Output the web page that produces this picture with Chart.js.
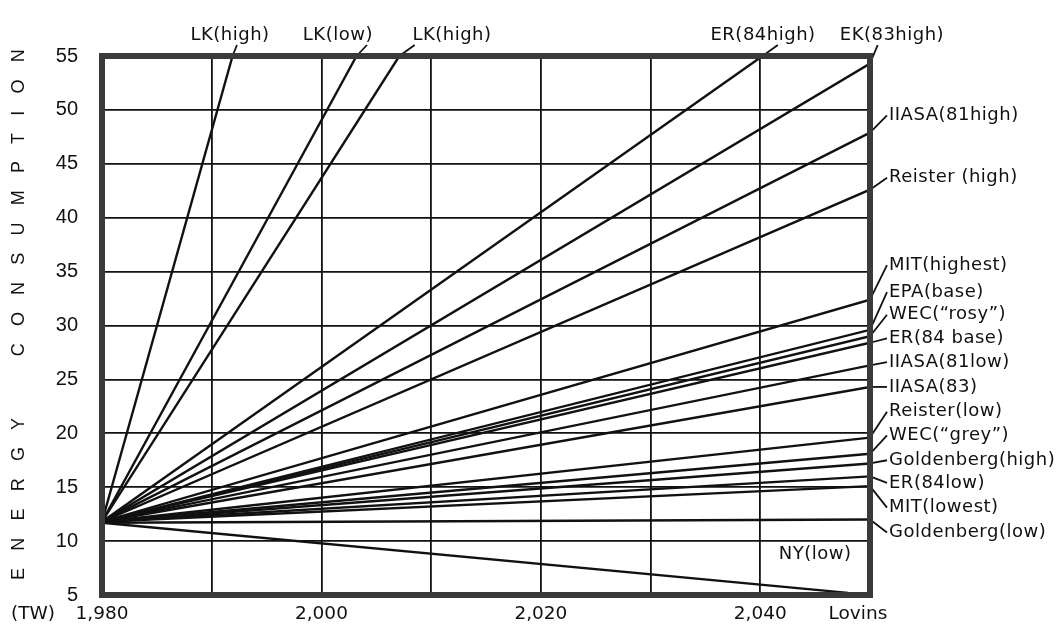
<!DOCTYPE html>
<html>
<head>
<meta charset="utf-8">
<title>Energy consumption scenarios</title>
<script src="https://cdn.jsdelivr.net/npm/chart.js@4/dist/chart.umd.min.js"></script>
<style>
  html, body { margin: 0; padding: 0; background: #fff; }
  #wrap { width: 1058px; height: 633px; }
</style>
</head>
<body>
<div id="wrap"><canvas id="chart" width="1058" height="633"></canvas></div>
<script>
'use strict';

// ─── Data ─────────────────────────────────────────────────────────────────────
const BASE_YEAR = 1980;

const scenarios = [
  'LK(high)', 'LK(low)', 'LK(high)', 'ER(84high)', 'EK(83high)',
  'IIASA(81high)', 'Reister (high)', 'MIT(highest)', 'EPA(base)', 'WEC(\u201crosy\u201d)',
  'ER(84 base)', 'IIASA(81low)', 'IIASA(83)', 'Reister(low)', 'WEC(\u201cgrey\u201d)',
  'Goldenberg(high)', 'ER(84low)', 'MIT(lowest)', 'Goldenberg(low)', 'Lovins',
];

// TW in 1980
const startTW = [
  11.8, 11.8, 11.8, 11.8, 11.8,
  11.8, 11.8, 11.8, 11.8, 11.8,
  11.8, 11.8, 11.8, 11.8, 11.8,
  11.8, 11.8, 11.8, 11.7, 11.7,
];

// where each projection stops (top of the frame, right edge, or floor)
const endYear = [
  1991.9, 2003.2, 2007.1, 2040.2, 2050,
  2050, 2050, 2050, 2050, 2050,
  2050, 2050, 2050, 2050, 2050,
  2050, 2050, 2050, 2050, 2048,
];
const endTW = [
  55, 55, 55, 55, 54.3,
  47.9, 42.6, 32.4, 29.6, 29.0,
  28.4, 26.3, 24.3, 19.6, 18.1,
  17.2, 16.0, 15.1, 12.0, 5.2,
];

const yTicks      = [5, 10, 15, 20, 25, 30, 35, 40, 45, 50, 55];
const xTickLabels = [1980, 2000, 2020, 2040];

// ─── Label layout ─────────────────────────────────────────────────────────────
// names above the frame: centre year, and year where the leader leaves the text
const topLabels = [
  { i: 0, year: 1991.67, tip: 1992.3 },
  { i: 1, year: 2001.5,  tip: 2004.15 },
  { i: 2, year: 2011.9,  tip: 2008.5 },
  { i: 3, year: 2040.25, tip: 2041.6 },
  { i: 4, year: 2052.0,  tip: 2050.7 },
];
// names right of the frame, height given on the TW scale
const sideLabels = [
  { i: 5,  at: 49.5 }, { i: 6,  at: 43.7 }, { i: 7,  at: 35.6 },
  { i: 8,  at: 33.1 }, { i: 9,  at: 31.0 }, { i: 10, at: 28.8 },
  { i: 11, at: 26.6 }, { i: 12, at: 24.3 }, { i: 13, at: 22.0 },
  { i: 14, at: 19.8 }, { i: 15, at: 17.5 }, { i: 16, at: 15.4 },
  { i: 17, at: 13.1 }, { i: 18, at: 10.8 },
];

const LABEL_FONT = '18px "DejaVu Sans"';
const INK        = '#111';

// ─── Plugin: frame, leaders and free text ────────────────────────────────────
const frameAndLabels = {
  id: 'frameAndLabels',
  afterDatasetsDraw(chart) {
    const { ctx, chartArea: a, scales: { x, y } } = chart;
    ctx.save();
    ctx.strokeStyle = INK;
    ctx.lineWidth   = 1.8;

    topLabels.forEach((l) => {
      ctx.beginPath();
      ctx.moveTo(x.getPixelForValue(endYear[l.i]), y.getPixelForValue(endTW[l.i]));
      ctx.lineTo(x.getPixelForValue(l.tip), 45);
      ctx.stroke();
    });

    sideLabels.forEach((l) => {
      ctx.beginPath();
      ctx.moveTo(a.right, y.getPixelForValue(endTW[l.i]));
      ctx.lineTo(a.right + 17, y.getPixelForValue(l.at));
      ctx.stroke();
    });

    ctx.strokeStyle = '#3a3a3a';
    ctx.lineWidth   = 6;
    ctx.strokeRect(a.left, a.top, a.right - a.left, a.bottom - a.top);
    ctx.restore();
  },
  afterDraw(chart) {
    const { ctx, chartArea: a, scales: { x, y } } = chart;
    ctx.save();
    ctx.fillStyle     = INK;
    ctx.font          = LABEL_FONT;
    ctx.letterSpacing = '0.5px';

    ctx.textAlign    = 'center';
    ctx.textBaseline = 'middle';
    topLabels.forEach((l) => ctx.fillText(scenarios[l.i], x.getPixelForValue(l.year), 35));

    ctx.textAlign = 'left';
    sideLabels.forEach((l) => ctx.fillText(scenarios[l.i], a.right + 19, y.getPixelForValue(l.at)));

    ctx.textAlign = 'center';
    ctx.fillText('NY(low)', x.getPixelForValue(2045.0), y.getPixelForValue(8.8));

    // under the axis
    ctx.font = '18.5px "DejaVu Sans"';
    ctx.letterSpacing = '0px';
    ctx.fillText('Lovins', x.getPixelForValue(2048.9), 614);
    ctx.fillText('(TW)', 33, 614);

    // spaced vertical axis title
    ctx.translate(19, 306);
    ctx.rotate(-Math.PI / 2);
    ctx.font = '18px "Liberation Sans"';
    ctx.letterSpacing = '17.2px';
    ctx.fillText('ENERGY  CONSUMPTION', 0, 0);
    ctx.restore();
  },
};

// ─── Chart ────────────────────────────────────────────────────────────────────
const datasets = scenarios.map((name, i) => ({
  label:       name,
  data:        [{ x: BASE_YEAR, y: startTW[i] }, { x: endYear[i], y: endTW[i] }],
  borderColor: INK,
  borderWidth: 2.4,
  pointRadius: 0,
  fill:        false,
  tension:     0,
}));

new Chart(document.getElementById('chart').getContext('2d'), {
  type: 'line',
  data: { datasets },
  options: {
    responsive:       false,
    animation:        false,
    devicePixelRatio: 1,
    layout: { padding: { top: 56, right: 188, bottom: 0, left: 0 } },
    plugins: {
      legend:  { display: false },
      tooltip: { enabled: false },
    },
    scales: {
      x: {
        type: 'linear',
        min:  1980,
        max:  2050,
        afterFit: (s) => { s.height = 38; },
        border: { display: false },
        grid:   { color: INK, lineWidth: 1.8, drawTicks: false },
        ticks: {
          stepSize: 10,
          padding:  8,
          color:    INK,
          font:     { family: 'DejaVu Sans', size: 18.5 },
          maxRotation: 0,
          autoSkip: false,
          callback: (v) => (xTickLabels.includes(v) ? v.toLocaleString('en-US') : ''),
        },
      },
      y: {
        type: 'linear',
        min:  yTicks[0],
        max:  yTicks[yTicks.length - 1],
        afterFit: (s) => { s.width = 102; },
        afterBuildTicks: (s) => { s.ticks = yTicks.map((v) => ({ value: v })); },
        border: { display: false },
        grid:   { color: INK, lineWidth: 1.8, drawTicks: false },
        ticks: {
          padding: 24,
          color:   INK,
          font:    { family: 'Liberation Sans', size: 20 },
        },
      },
    },
  },
  plugins: [frameAndLabels],
});
</script>
</body>
</html>
